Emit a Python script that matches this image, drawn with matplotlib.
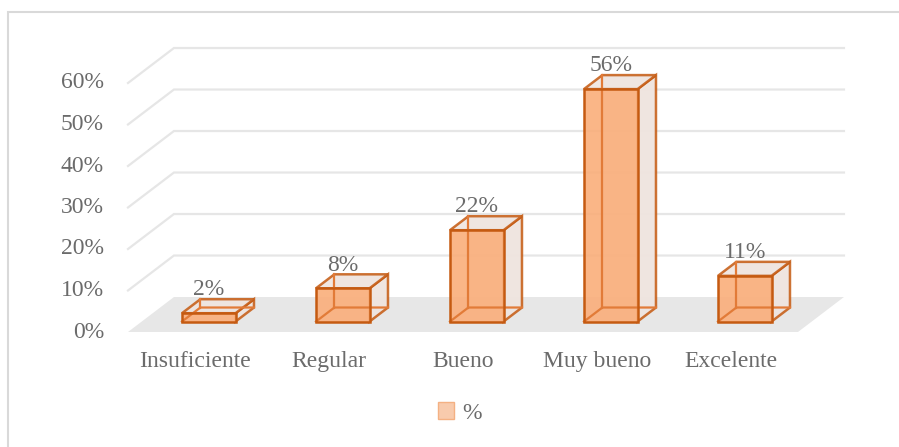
import matplotlib.pyplot as plt
from matplotlib.patches import Polygon, Rectangle, Patch

plt.rcParams['font.family'] = ['Liberation Serif', 'DejaVu Serif']

categorias = ['Insuficiente', 'Regular', 'Bueno', 'Muy bueno', 'Excelente']
porcentajes = [2, 8, 22, 56, 11]
ticks_y = [0, 10, 20, 30, 40, 50, 60]
serie = '%'

# profundidad de la caja 3D (en unidades de datos)
DX, DY = 0.343, 8.43
Z0, Z1 = 0.3, 0.7
ANCHO = 0.4

ORANGE_EDGE = '#C55A11'
HIDDEN_EDGE = '#E27B38'
ORANGE_FACE = '#FAAE7A'
LIGHT_FACE = '#EFE4DF'
GRID = '#E6E6E6'
TXT = '#6B6B6B'
FS = 17


def proj(x, v, z):
    return (x + z * DX, v + z * DY)


fig = plt.figure(figsize=(8.99, 4.47), dpi=100)
ax = fig.add_axes([0, 0, 1, 1])
ax.set_xlim(-195 / 134, (899 - 195) / 134)
ax.set_ylim((332 - 447) / 4.15, 332 / 4.15)
ax.axis('off')

# marco del gráfico
fig.patches.append(Rectangle((8 / 899, -0.1), 1.2, (447 - 11.5) / 447 + 0.1,
                             transform=fig.transFigure, fill=False,
                             edgecolor='#D9D9D9', linewidth=1.5))

n = len(categorias)
x_min, x_max = -0.5, n - 0.5

# piso
piso = [proj(x_min, 0, 0), proj(x_max, 0, 0), proj(x_max, 0, 1), proj(x_min, 0, 1)]
ax.add_patch(Polygon(piso, closed=True, facecolor='#E7E7E7', edgecolor='none', zorder=1))

# líneas de cuadrícula (pared lateral y pared de fondo) y etiquetas del eje
for v in ticks_y:
    if v > 0:
        pts = [proj(x_min, v, 0), proj(x_min, v, 1), proj(x_max, v, 1)]
        ax.plot([p[0] for p in pts], [p[1] for p in pts], color=GRID, lw=1.6, zorder=1,
                solid_joinstyle='miter')
    ax.text(-0.679, v, f'{v}%', ha='right', va='center', fontsize=FS, color=TXT)

# barras 3D
for i, (cat, val) in enumerate(zip(categorias, porcentajes)):
    xl, xr = i - ANCHO / 2, i + ANCHO / 2

    atras = [proj(xl, 0, Z1), proj(xr, 0, Z1), proj(xr, val, Z1), proj(xl, val, Z1)]
    der = [proj(xr, 0, Z0), proj(xr, 0, Z1), proj(xr, val, Z1), proj(xr, val, Z0)]
    arriba = [proj(xl, val, Z0), proj(xr, val, Z0), proj(xr, val, Z1), proj(xl, val, Z1)]
    frente = [proj(xl, 0, Z0), proj(xr, 0, Z0), proj(xr, val, Z0), proj(xl, val, Z0)]

    ax.add_patch(Polygon(atras, closed=True, facecolor=LIGHT_FACE, alpha=0.6,
                         edgecolor='none', zorder=2))
    for cara in (der, arriba):
        ax.add_patch(Polygon(cara, closed=True, facecolor=LIGHT_FACE, alpha=0.85,
                             edgecolor=ORANGE_EDGE, lw=1.8, zorder=3))
    ax.add_patch(Polygon(frente, closed=True, facecolor=ORANGE_FACE, alpha=0.9,
                         edgecolor='none', zorder=4))

    # aristas ocultas vistas a través de la caja
    b0 = proj(xl, 0, Z0)
    b1 = proj(xl, 0, Z1)
    b2 = proj(xr, 0, Z1)
    b3 = proj(xl, val, Z1)
    ax.plot([b0[0], b1[0], b2[0]], [b0[1], b1[1], b2[1]], color=HIDDEN_EDGE, lw=1.6, zorder=4.5)
    ax.plot([b1[0], b3[0]], [b1[1], b3[1]], color=HIDDEN_EDGE, lw=1.6, zorder=4.5)

    ax.add_patch(Polygon(frente, closed=True, fill=False,
                         edgecolor=ORANGE_EDGE, lw=1.8, zorder=5))

    # etiqueta de datos
    lx, ly = proj(i, val, Z1)
    ax.text(lx - (Z1 - Z0) * DX, ly - 0.3, f'{val}%', ha='center', va='bottom',
            fontsize=FS, color=TXT, zorder=6)
    # etiqueta de categoría
    ax.text(i, -7.0, cat, ha='center', va='center', fontsize=FS, color=TXT)

leg = fig.legend(handles=[Patch(facecolor='#F8CBAD', edgecolor='#F4B183', label=serie)],
                 loc='center', bbox_to_anchor=(460 / 899, 1 - 413 / 447), frameon=False,
                 fontsize=FS, handlelength=0.7, handleheight=0.7, handletextpad=0.35,
                 labelcolor=TXT)

fig.savefig('out.png', dpi=100)
